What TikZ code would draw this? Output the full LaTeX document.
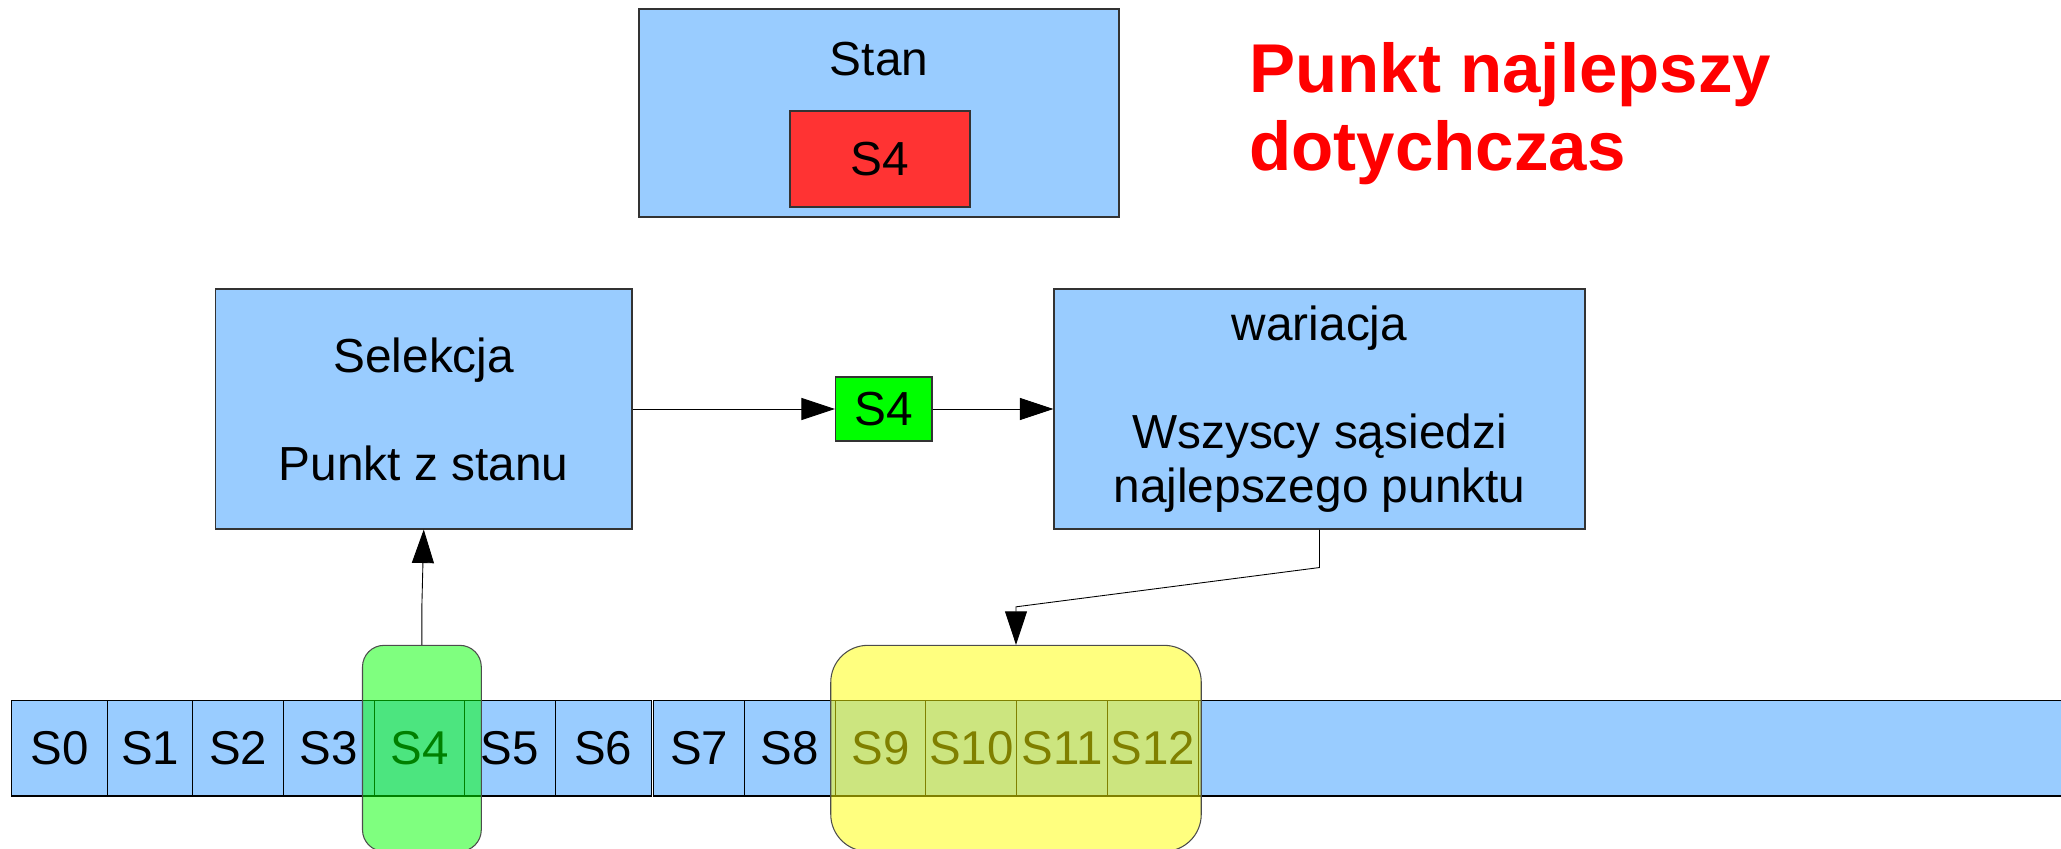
\documentclass[tikz,border=0pt]{standalone}
\usepackage{fontspec}
\setmainfont{Liberation Sans}
\usepackage{xcolor}
\usepackage{tikz}
\usetikzlibrary{arrows.meta, positioning, calc}

\definecolor{stateblue}{HTML}{99CCFF}
\definecolor{bestred}{HTML}{FF3333}
\definecolor{pickgreen}{HTML}{00FF00}
\definecolor{nbhdyellow}{HTML}{FFFF00}

\tikzset{
  bluebox/.style={
    draw=black!80, line width=0.6pt, fill=stateblue, align=center,
    font=\fontsize{27.2}{30.7}\selectfont, inner sep=0pt
  },
  boxtext/.style={
    font=\fontsize{27.2}{30.7}\selectfont, inner sep=0pt
  },
  cellbox/.style={
    draw=black, line width=0.6pt, fill=stateblue, inner sep=0pt, outer sep=0pt,
    minimum width=1.812cm, minimum height=1.906cm,
    font=\fontsize{27}{30}\selectfont
  },
  markbox/.style={
    draw=black!70, line width=0.6pt, fill opacity=0.5,
    minimum height=4.12cm, inner sep=0pt
  },
  flowarrow/.style={
    -{Triangle[length=0.67cm, width=0.44cm]}, line width=0.5pt, black
  },
  titletext/.style={
    font=\bfseries\fontsize{39.3}{44.4}\selectfont, text=red,
    align=left, inner sep=0pt
  },
}

\begin{document}
\begin{tikzpicture}
  \clip (0,0) rectangle (41.22,16.96);

  % ── Stan (best point so far) ──
  \node[bluebox, minimum width=9.6cm, minimum height=4.16cm] (stan)
    at (17.58, 14.70) {};
  \node[boxtext, anchor=base] (stanlbl) at (17.58, 15.44) {Stan};
  \node[bluebox, fill=bestred, minimum width=3.6cm, minimum height=1.92cm]
    (best) at (17.6, 13.78) {S4};

  \node[titletext, anchor=north west] (title) at (24.98, 16.12)
    {Punkt najlepszy\\dotychczas};

  % ── Selekcja -> wariacja ──
  \node[bluebox, minimum width=8.33cm, minimum height=4.8cm] (selekcja)
    at (8.475, 8.78) {Selekcja\\[30.7pt]Punkt z stanu};

  \node[bluebox, fill=pickgreen, minimum width=1.93cm, minimum height=1.28cm]
    (pick) at (17.675, 8.78) {S4};

  \node[bluebox, minimum width=10.62cm, minimum height=4.8cm] (wariacja)
    at (26.39, 8.78) {wariacja\\[30.7pt]Wszyscy sąsiedzi\\najlepszego punktu};

  % ── Search space ──
  \node[cellbox, anchor=west, minimum width=1.928cm] (s0) at (0.224, 1.993) {S0};
  \node[cellbox, minimum width=1.706cm, right=0pt of s0] (s1) {S1};
  \node[cellbox, right=0pt of s1] (s2) {S2};
  \node[cellbox, right=0pt of s2] (s3) {S3};
  \node[cellbox, right=0pt of s3] (s4) {S4};
  \node[cellbox, right=0pt of s4] (s5) {S5};
  \node[cellbox, minimum width=1.918cm, right=0pt of s5] (s6) {S6};
  \node[cellbox, right=0.054cm of s6] (s7) {S7};
  \node[cellbox, right=0pt of s7] (s8) {S8};
  \node[cellbox, right=0pt of s8] (s9) {S9};
  \node[cellbox, minimum width=1.822cm, right=0pt of s9] (s10) {S10};
  \node[cellbox, right=0pt of s10] (s11) {S11};
  \node[cellbox, minimum width=1.828cm, right=0pt of s11] (s12) {S12};
  \node[cellbox, minimum width=18.6cm, right=0pt of s12] (rest) {};

  % ── Highlights over the strip ──
  \node[markbox, fill=pickgreen, minimum width=2.376cm, rounded corners=0.43cm]
    (current) at (8.438, 1.993) {};
  \node[markbox, fill=nbhdyellow, minimum width=7.41cm, rounded corners=0.74cm]
    (nbhd) at (20.32, 1.993) {};

  % ── Connectors ──
  \draw[flowarrow] (selekcja) -- (pick);
  \draw[flowarrow] (pick) -- (wariacja);
  \draw[flowarrow] (current.north) -- ++(0,0.8) -- (selekcja.south);
  \draw[flowarrow] (wariacja.south) -- ++(0,-0.76)
    -- ([yshift=0.76cm]nbhd.north) -- (nbhd.north);
\end{tikzpicture}
\end{document}
